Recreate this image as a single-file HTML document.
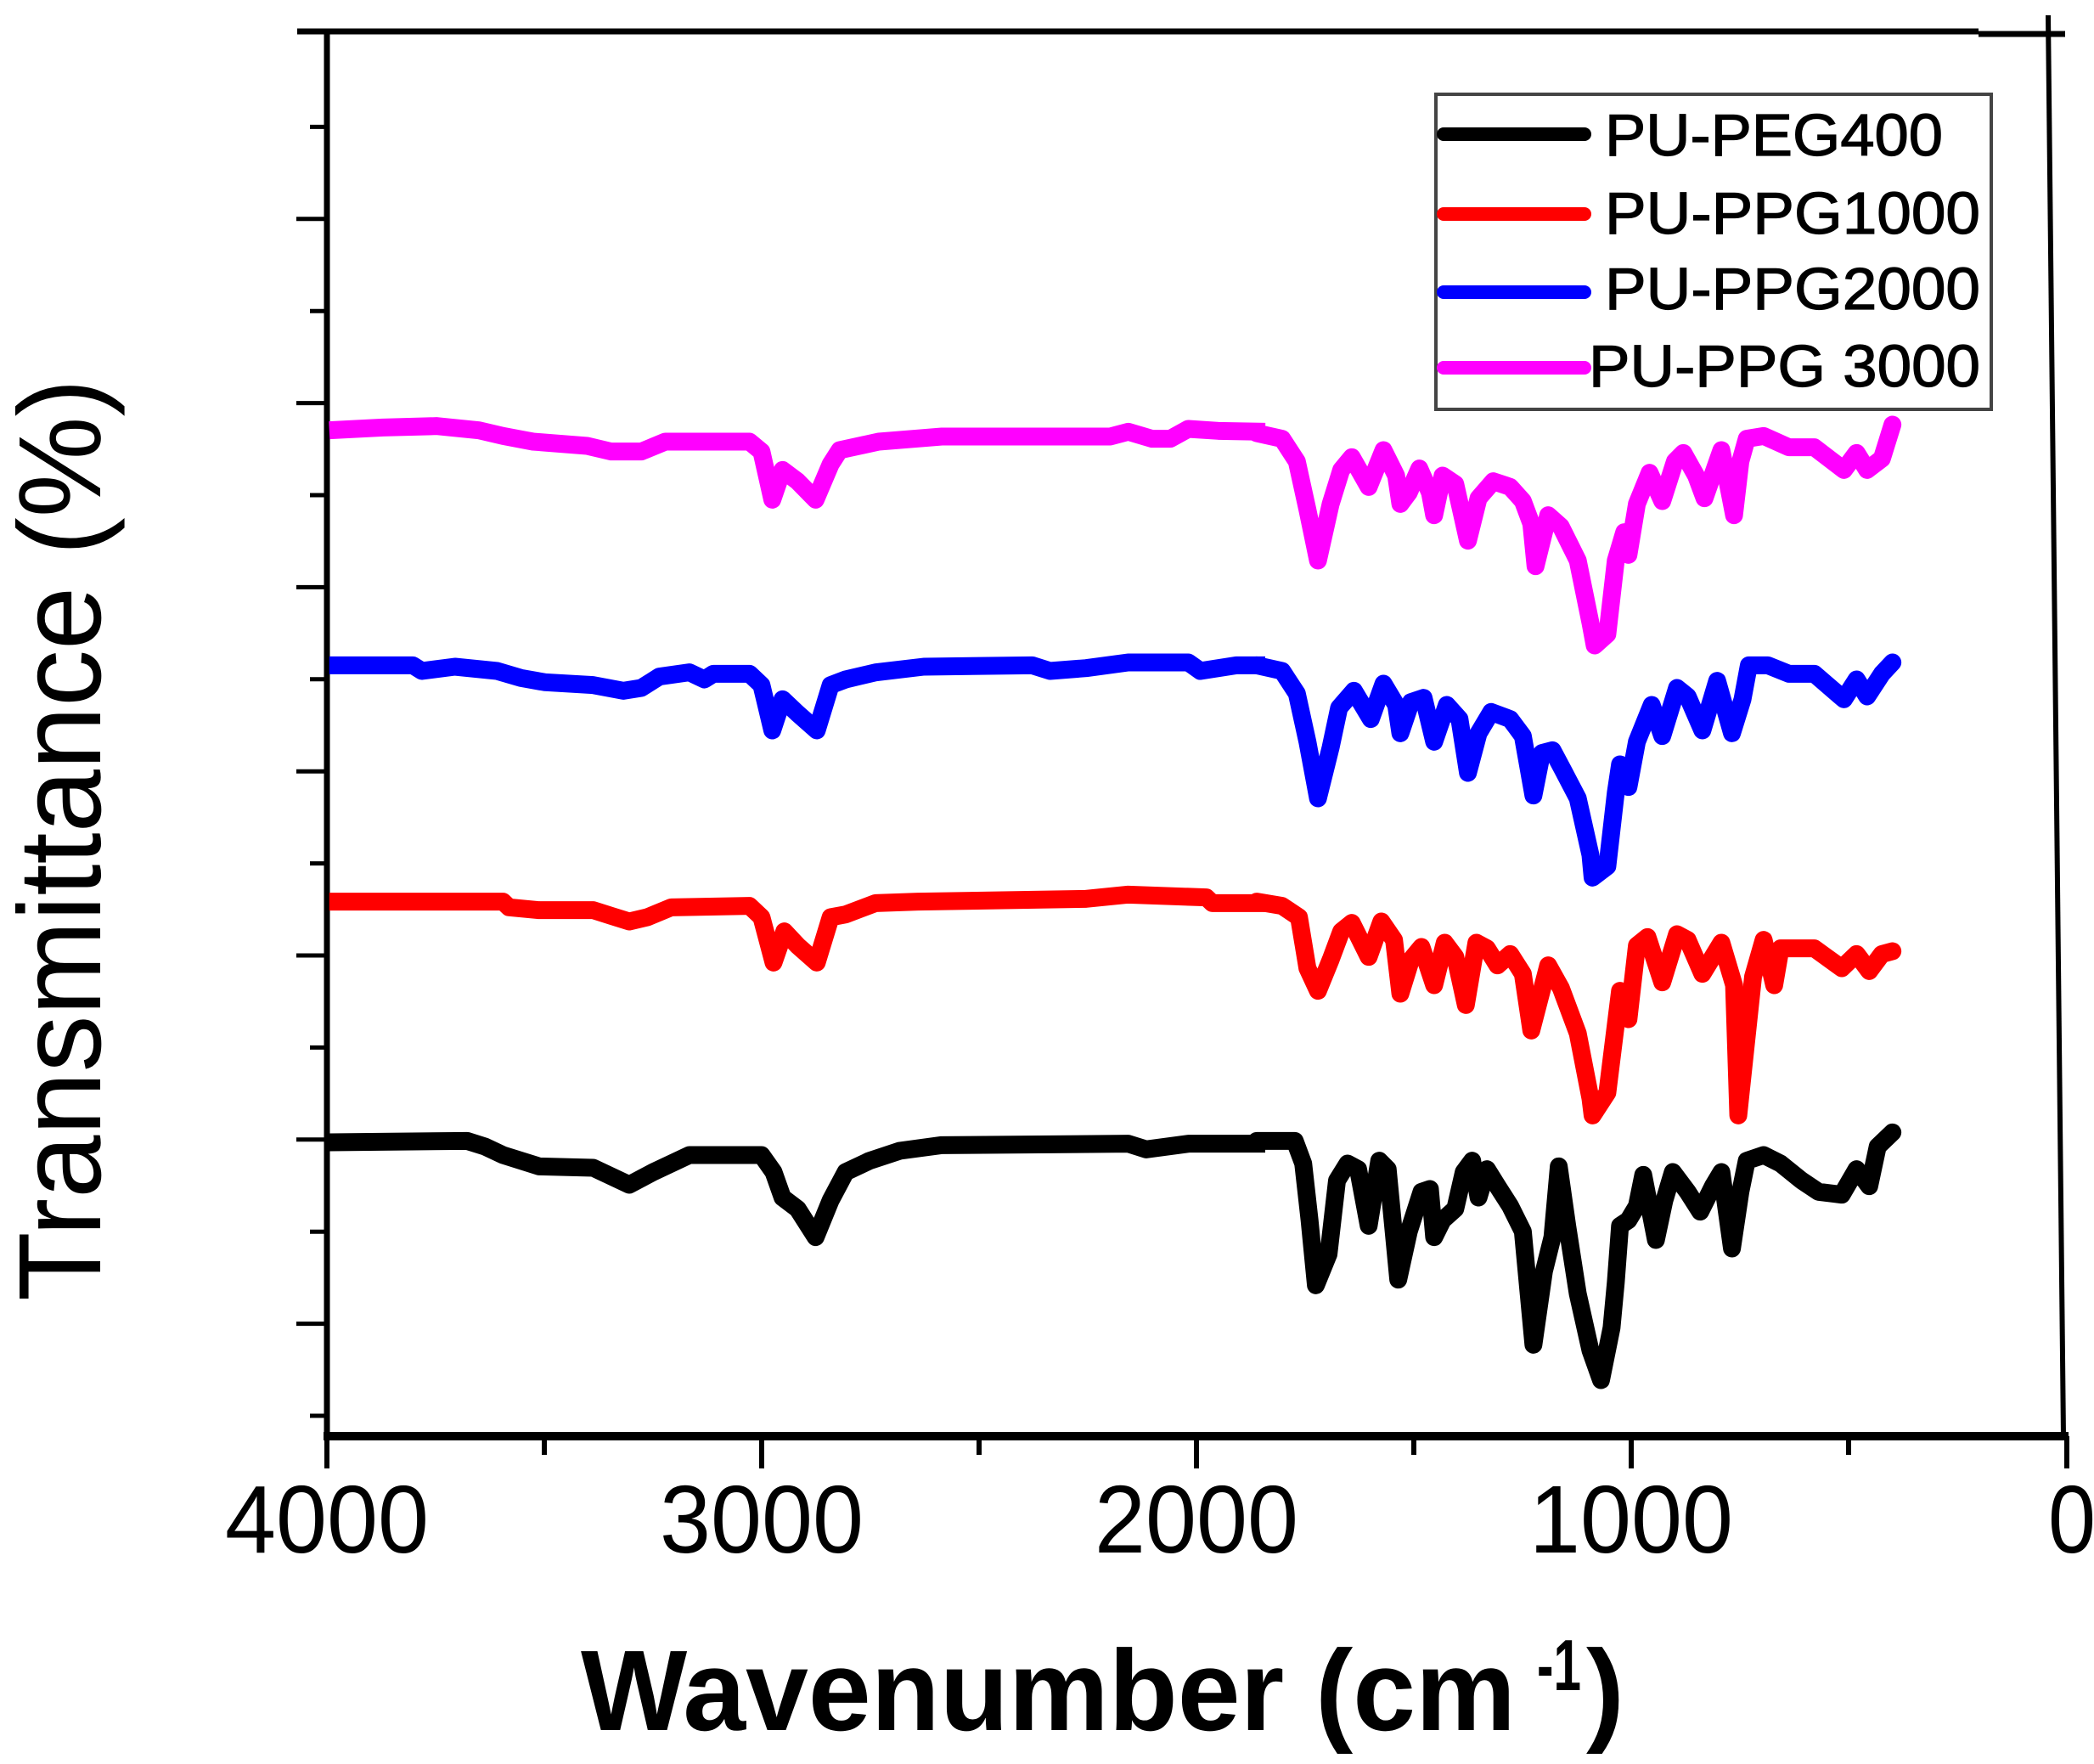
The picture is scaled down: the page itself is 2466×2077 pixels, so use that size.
<!DOCTYPE html>
<html>
<head>
<meta charset="utf-8">
<style>
  html, body { margin: 0; padding: 0; background: #ffffff; }
  svg { display: block; }
  text { font-family: "Liberation Sans", "DejaVu Sans", sans-serif; }
</style>
</head>
<body>
<svg width="2466" height="2077" viewBox="0 0 2466 2077" xmlns="http://www.w3.org/2000/svg">
  <rect x="0" y="0" width="2466" height="2077" fill="#ffffff"/>

  <!-- Frame -->
  <line x1="350" y1="37" x2="2330" y2="37" stroke="#000" stroke-width="7"/>
  <line x1="2330" y1="40" x2="2432" y2="40" stroke="#000" stroke-width="7"/>
  <line x1="2412" y1="18" x2="2430" y2="1691" stroke="#000" stroke-width="6"/>
  <line x1="385" y1="34" x2="385" y2="1695" stroke="#000" stroke-width="7"/>
  <line x1="381" y1="1691" x2="2436" y2="1691" stroke="#000" stroke-width="10"/>

  <!-- Y ticks -->
  <g stroke="#000" stroke-width="5">
    <line x1="349" y1="257.8" x2="385" y2="257.8"/>
    <line x1="349" y1="474.6" x2="385" y2="474.6"/>
    <line x1="349" y1="691.4" x2="385" y2="691.4"/>
    <line x1="349" y1="908.2" x2="385" y2="908.2"/>
    <line x1="349" y1="1125" x2="385" y2="1125"/>
    <line x1="349" y1="1341.8" x2="385" y2="1341.8"/>
    <line x1="349" y1="1558.6" x2="385" y2="1558.6"/>
    <line x1="365" y1="149.4" x2="385" y2="149.4"/>
    <line x1="365" y1="366.2" x2="385" y2="366.2"/>
    <line x1="365" y1="583" x2="385" y2="583"/>
    <line x1="365" y1="799.8" x2="385" y2="799.8"/>
    <line x1="365" y1="1016.6" x2="385" y2="1016.6"/>
    <line x1="365" y1="1233.4" x2="385" y2="1233.4"/>
    <line x1="365" y1="1450.2" x2="385" y2="1450.2"/>
    <line x1="365" y1="1667" x2="385" y2="1667"/>
  </g>

  <!-- X ticks -->
  <g stroke="#000" stroke-width="6">
    <line x1="385" y1="1691" x2="385" y2="1729"/>
    <line x1="897" y1="1691" x2="897" y2="1729"/>
    <line x1="1409" y1="1691" x2="1409" y2="1729"/>
    <line x1="1921" y1="1691" x2="1921" y2="1729"/>
    <line x1="2434" y1="1691" x2="2434" y2="1729"/>
    <line x1="641" y1="1691" x2="641" y2="1713"/>
    <line x1="1153" y1="1691" x2="1153" y2="1713"/>
    <line x1="1665" y1="1691" x2="1665" y2="1713"/>
    <line x1="2177" y1="1691" x2="2177" y2="1713"/>
  </g>

  <!-- X tick labels -->
  <g font-size="113" fill="#000" text-anchor="middle">
    <text x="385" y="1828" textLength="240" lengthAdjust="spacingAndGlyphs">4000</text>
    <text x="897" y="1828" textLength="240" lengthAdjust="spacingAndGlyphs">3000</text>
    <text x="1409" y="1828" textLength="240" lengthAdjust="spacingAndGlyphs">2000</text>
    <text x="1921" y="1828" textLength="240" lengthAdjust="spacingAndGlyphs">1000</text>
    <text x="2440" y="1828" textLength="56" lengthAdjust="spacingAndGlyphs">0</text>
  </g>

  <!-- X axis title -->
  <text x="684" y="2037" font-size="135" font-weight="bold" fill="#000" textLength="1101" lengthAdjust="spacingAndGlyphs">Wavenumber (cm</text>
  <text x="1810" y="1990" font-size="85" font-weight="bold" fill="#000" textLength="52" lengthAdjust="spacingAndGlyphs">-1</text>
  <text x="1868" y="2037" font-size="135" font-weight="bold" fill="#000">)</text>

  <!-- Y axis title -->
  <text transform="translate(118,1532) rotate(-90)" x="0" y="0" font-size="138" fill="#000" textLength="1086" lengthAdjust="spacingAndGlyphs">Transmittance (%)</text>

  <!-- Series: left part (4000 - ~1860 cm-1) -->
  <g fill="none" stroke-width="21" stroke-linejoin="round" stroke-linecap="butt">
    <g transform="translate(380,470) scale(0.70791,0.33333)">
      <path vector-effect="non-scaling-stroke" stroke="#ff00ff" d="M11,110 L100,100 L190,95 L260,110 L300,130 L350,150 L440,165 L480,185 L530,185 L570,150 L710,150 L730,185 L748,355 L765,250 L790,290 L820,355 L845,230 L860,180 L925,150 L1030,132 L1310,132 L1340,115 L1380,140 L1410,140 L1440,105 L1490,112 L1568,115"/>
      <path vector-effect="non-scaling-stroke" stroke="#0000ff" d="M11,940 L150,940 L165,960 L220,945 L290,960 L330,985 L370,1000 L450,1010 L500,1030 L530,1020 L560,980 L610,965 L635,990 L650,970 L710,970 L730,1010 L748,1170 L765,1060 L790,1110 L822,1170 L845,1010 L870,990 L920,965 L1000,945 L1180,940 L1210,960 L1270,950 L1340,930 L1440,930 L1460,960 L1520,940 L1568,940"/>
    </g>
    <g transform="translate(380,1030) scale(0.70791,0.33333)">
      <path vector-effect="non-scaling-stroke" stroke="#ff0000" d="M11,95 L300,95 L310,115 L360,125 L450,125 L480,145 L510,165 L540,150 L580,115 L710,110 L730,150 L750,310 L768,200 L790,250 L822,310 L845,150 L870,140 L920,100 L990,95 L1270,85 L1340,70 L1470,80 L1480,100 L1568,100"/>
      <path vector-effect="non-scaling-stroke" stroke="#000000" d="M11,945 L240,940 L270,960 L300,990 L360,1030 L450,1035 L510,1095 L550,1050 L610,990 L730,990 L750,1050 L765,1140 L790,1180 L820,1280 L845,1150 L870,1050 L910,1010 L960,975 L1030,955 L1340,950 L1370,970 L1440,950 L1568,950"/>
    </g>
  </g>

  <!-- Series: right part (~1860 - 400 cm-1) -->
  <g fill="none" stroke-width="21" stroke-linejoin="round" stroke-linecap="round">
    <g transform="translate(1480,460) scale(0.49745,0.33333)">
      <path vector-effect="non-scaling-stroke" stroke="#ff00ff" d="M0,150 L60,170 L95,250 L120,420 L145,600 L175,400 L200,280 L225,235 L265,340 L300,210 L330,300 L340,400 L360,360 L385,275 L410,360 L420,440 L440,300 L470,330 L500,530 L525,380 L560,320 L600,340 L630,390 L650,470 L660,620 L690,440 L720,480 L760,600 L790,820 L800,900 L830,860 L850,600 L870,500 L880,580 L900,400 L930,290 L960,390 L990,250 L1010,220 L1040,300 L1060,380 L1100,210 L1130,440 L1145,250 L1160,170 L1200,160 L1260,200 L1320,200 L1390,280 L1420,220 L1445,280 L1480,240 L1505,120"/>
    </g>
    <g transform="translate(1480,740) scale(0.49745,0.33333)">
      <path vector-effect="non-scaling-stroke" stroke="#0000ff" d="M0,130 L60,150 L95,230 L120,400 L145,600 L175,420 L195,280 L230,220 L270,320 L300,195 L330,270 L340,370 L365,260 L395,245 L420,400 L450,270 L480,320 L500,510 L525,370 L555,295 L600,320 L630,380 L655,590 L675,440 L700,430 L725,500 L760,600 L790,800 L795,880 L830,840 L850,580 L860,480 L880,560 L900,400 L935,270 L960,380 L995,210 L1020,240 L1055,360 L1090,185 L1125,370 L1150,250 L1165,130 L1210,130 L1260,160 L1320,160 L1390,250 L1420,180 L1445,240 L1480,160 L1505,120"/>
    </g>
    <g transform="translate(1480,1020) scale(0.49745,0.33333)">
      <path vector-effect="non-scaling-stroke" stroke="#ff0000" d="M0,125 L60,140 L100,180 L120,360 L145,440 L175,330 L200,230 L225,200 L265,320 L295,195 L325,260 L340,450 L365,330 L390,285 L420,420 L445,270 L470,320 L495,490 L520,270 L545,290 L570,350 L600,310 L630,380 L650,580 L690,350 L720,430 L760,590 L790,820 L795,880 L830,800 L850,560 L860,440 L880,540 L900,280 L925,250 L960,410 L995,240 L1020,260 L1055,380 L1100,270 L1130,420 L1140,880 L1160,600 L1175,390 L1200,260 L1225,420 L1240,290 L1320,290 L1385,360 L1420,310 L1450,370 L1480,310 L1505,300"/>
    </g>
    <g transform="translate(1480,1310) scale(0.49745,0.33333)">
      <path vector-effect="non-scaling-stroke" stroke="#000000" d="M0,100 L90,100 L110,180 L125,380 L140,610 L170,500 L190,240 L215,180 L240,200 L265,400 L290,170 L310,200 L335,590 L360,420 L390,280 L410,270 L420,440 L440,380 L470,340 L490,210 L510,170 L525,300 L545,200 L570,260 L600,330 L630,420 L655,820 L680,560 L700,440 L715,190 L735,400 L760,640 L790,840 L815,945 L840,760 L850,600 L860,400 L880,380 L900,330 L915,220 L945,450 L965,310 L985,210 L1020,280 L1050,350 L1080,260 L1100,210 L1125,480 L1145,280 L1160,170 L1200,150 L1240,180 L1290,240 L1330,280 L1385,290 L1420,200 L1450,260 L1470,120 L1505,70"/>
    </g>
  </g>

  <!-- Legend -->
  <rect x="1691" y="111" width="654" height="371" fill="#ffffff" stroke="#444" stroke-width="4"/>
  <g stroke-width="16" stroke-linecap="round">
    <line x1="1700" y1="158" x2="1866" y2="158" stroke="#000000"/>
    <line x1="1700" y1="252" x2="1866" y2="252" stroke="#ff0000"/>
    <line x1="1700" y1="344" x2="1866" y2="344" stroke="#0000ff"/>
    <line x1="1700" y1="433" x2="1866" y2="433" stroke="#ff00ff"/>
  </g>
  <g font-size="70" fill="#000" stroke="#000" stroke-width="1.2">
    <text x="1890" y="183" textLength="398" lengthAdjust="spacingAndGlyphs">PU-PEG400</text>
    <text x="1890" y="275" textLength="442" lengthAdjust="spacingAndGlyphs">PU-PPG1000</text>
    <text x="1890" y="364" textLength="442" lengthAdjust="spacingAndGlyphs">PU-PPG2000</text>
    <text x="1871" y="455" textLength="461" lengthAdjust="spacingAndGlyphs">PU-PPG 3000</text>
  </g>
</svg>
</body>
</html>
